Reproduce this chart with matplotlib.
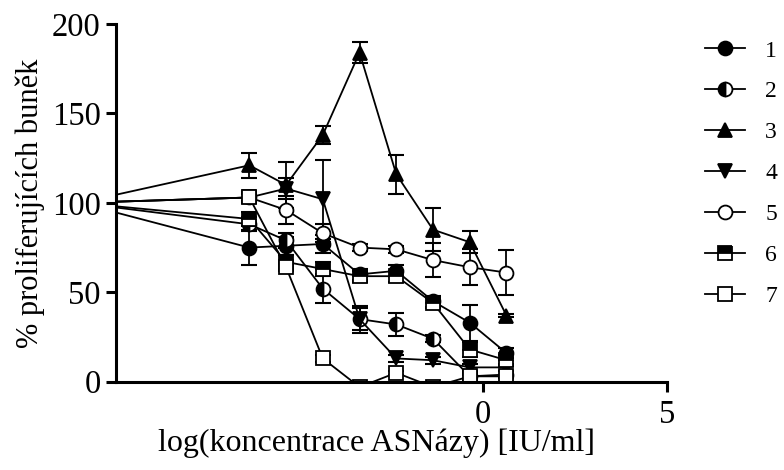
import matplotlib
matplotlib.use("Agg")
import matplotlib.pyplot as plt
from matplotlib.lines import Line2D

# log concentration of each dilution, control (100 %) sits left of the axis
x_vals = [-6.37, -5.37, -4.37, -3.37, -2.37, -1.37, -0.37, 0.63]
x_ctrl = -11.0
ctrl_val = 100

labels = ["1", "2", "3", "4", "5", "6", "7"]

s1 = [75, 76, 77, 60, 62, 45, 33, 16]
s2 = [88, 79, 52, 35, 32, 24, 3, 4]
s3 = [121, 110, 138, 184, 116, 85, 78, 37]
s4 = [103, 108, 102, 35, 13, 12, 8, 8]
s5 = [103, 96, 83, 75, 74, 68, 64, 61]
s6 = [91, 67, 63, 59, 59, 44, 18, 12]
s7 = [103, 64, 13, -3, 5, -3, 3, 3]

e1 = [10, 5, 5, 3, 3, 3, 10, 3]
e2 = [4, 4, 8, 7.5, 6.5, 2, 2, 2]
e3 = [7, 13, 5, 6, 11, 12, 6, 1]
e4 = [3, 6, 22, 6, 2, 2, 2, 2]
e5 = [3, 8, 5, 2, 2, 9.5, 10, 12.5]
e6 = [4, 4, 4, 3, 3, 3, 4, 3]
e7 = [2, 2, 2, 1, 1, 1, 1, 1]

series = [s1, s2, s3, s4, s5, s6, s7]
errors = [e1, e2, e3, e4, e5, e6, e7]

# marker styles (marker, fillstyle, face colour)
styles = [
    dict(marker="o", fillstyle="full", markerfacecolor="black"),
    dict(marker="o", fillstyle="left", markerfacecolor="black", markerfacecoloralt="white"),
    dict(marker="^", fillstyle="full", markerfacecolor="black"),
    dict(marker="v", fillstyle="full", markerfacecolor="black"),
    dict(marker="o", fillstyle="full", markerfacecolor="white"),
    dict(marker="s", fillstyle="top", markerfacecolor="black", markerfacecoloralt="white"),
    dict(marker="s", fillstyle="full", markerfacecolor="white"),
]

plt.rcParams["font.family"] = ["Liberation Serif", "DejaVu Serif"]

fig = plt.figure(figsize=(7.84, 4.70), dpi=100)
ax = fig.add_axes([116 / 784, 1 - 381.7 / 470, (667 - 116) / 784, (381.7 - 24) / 470])

ms = 10
for i in range(7):
    # error bars at data points
    ax.errorbar(x_vals, series[i], yerr=errors[i], fmt="none", ecolor="black",
                elinewidth=1.3, capsize=6, capthick=1.5, zorder=2 + i)
    # line from control through points
    ax.plot([x_ctrl] + x_vals, [ctrl_val] + series[i], color="black", lw=1.3, zorder=2 + i)
    ax.plot(x_vals, series[i], linestyle="none", markersize=ms,
            markeredgecolor="black", markeredgewidth=1.3, zorder=3 + i, **styles[i])

ax.set_xlim(-10, 5)
ax.set_ylim(0, 200)
ax.set_xticks([0, 5])
ax.set_yticks([0, 50, 100, 150, 200])

for side in ["top", "right"]:
    ax.spines[side].set_visible(False)
for side in ["left", "bottom"]:
    ax.spines[side].set_linewidth(2.2)
    ax.spines[side].set_zorder(20)

ax.tick_params(axis="both", direction="out", length=7, width=2.2, labelsize=23.5, pad=4)
ax.tick_params(axis="x", pad=6)

ax.set_xlabel("log(koncentrace ASNázy) [IU/ml]", fontsize=23, labelpad=-1.5)
ax.xaxis.label.set_x(0.473)
ax.set_ylabel("% proliferujících buněk", fontsize=22, labelpad=5)

handles = []
for i in range(7):
    handles.append(Line2D([0], [0], color="black", lw=1.3, markersize=ms,
                          markeredgecolor="black", markeredgewidth=1.3, **styles[i]))

fig.legend(handles, labels, loc="upper left", bbox_to_anchor=(705 / 784, 1 - 40 / 470),
           frameon=False, fontsize=17, handlelength=1.7, handletextpad=0.85,
           labelspacing=0.82, borderaxespad=0, borderpad=0)

fig.savefig("out.png", dpi=100)
